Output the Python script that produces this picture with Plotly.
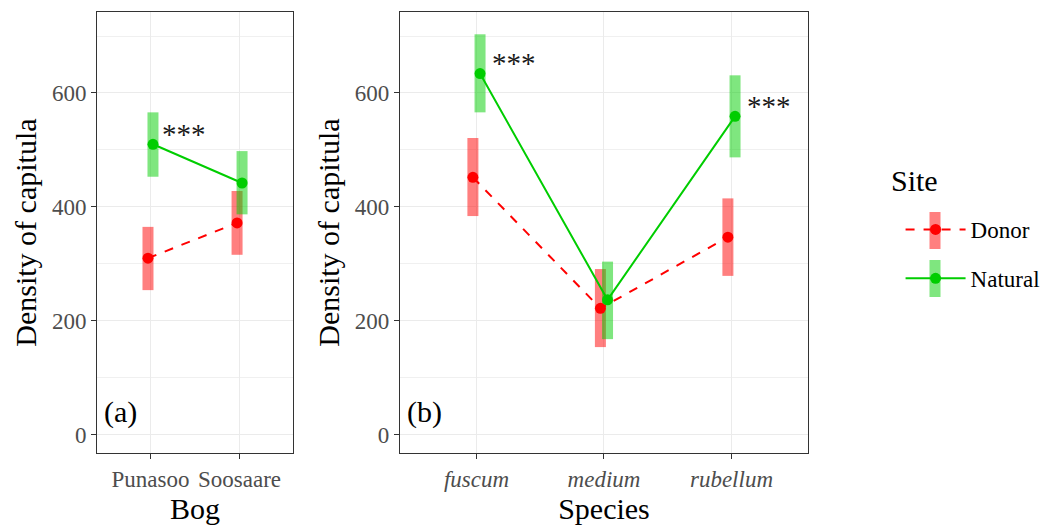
import plotly.graph_objects as go

# ---- data ----
bogs = ["Punasoo", "Soosaare"]
species = ["fuscum", "medium", "rubellum"]

bog_donor_mean = [310, 372]
bog_donor_lo = [254, 316]
bog_donor_hi = [365, 428]
bog_natural_mean = [510, 442]
bog_natural_lo = [453, 387]
bog_natural_hi = [566, 498]

sp_donor_mean = [452, 222, 347]
sp_donor_lo = [384, 154, 279]
sp_donor_hi = [521, 291, 415]
sp_natural_mean = [634, 237, 559]
sp_natural_lo = [566, 168, 487]
sp_natural_hi = [703, 304, 631]

bog_signif = ["***", ""]
sp_signif = ["***", "", "***"]

RED = "#FF0000"
GREEN = "#00CD00"
RED_A = "rgba(255,0,0,0.5)"
GREEN_A = "rgba(0,205,0,0.5)"
FONT = "Liberation Serif"
dodge = 0.028

fig = go.Figure()

def add_panel(xa, ya, cats, dm, dlo, dhi, nm, nlo, nhi, showlegend):
    xs = list(range(1, len(cats) + 1))
    xd = [x - dodge for x in xs]
    xn = [x + dodge for x in xs]
    for xx, m, lo, hi, col in [(xd, dm, dlo, dhi, RED_A), (xn, nm, nlo, nhi, GREEN_A)]:
        fig.add_trace(go.Scatter(
            x=xx, y=m, xaxis=xa, yaxis=ya, mode="markers",
            marker=dict(size=1, opacity=0), showlegend=False, hoverinfo="skip",
            error_y=dict(type="data", symmetric=False,
                         array=[h - v for h, v in zip(hi, m)],
                         arrayminus=[v - l for v, l in zip(m, lo)],
                         color=col, thickness=11, width=0)))
    fig.add_trace(go.Scatter(
        x=xd, y=dm, xaxis=xa, yaxis=ya, mode="lines+markers", name="Donor",
        legendgroup="Donor", showlegend=showlegend,
        line=dict(color=RED, width=2, dash="dash"),
        marker=dict(color=RED, size=11)))
    fig.add_trace(go.Scatter(
        x=xn, y=nm, xaxis=xa, yaxis=ya, mode="lines+markers", name="Natural",
        legendgroup="Natural", showlegend=showlegend,
        line=dict(color=GREEN, width=2),
        marker=dict(color=GREEN, size=11)))

add_panel("x", "y", bogs, bog_donor_mean, bog_donor_lo, bog_donor_hi,
          bog_natural_mean, bog_natural_lo, bog_natural_hi, True)
add_panel("x2", "y2", species, sp_donor_mean, sp_donor_lo, sp_donor_hi,
          sp_natural_mean, sp_natural_lo, sp_natural_hi, False)

STAR_FONT = dict(family=FONT, size=29, color="#1a1a1a")
TITLE_FONT = dict(family=FONT, size=30, color="black")
annotations = []
for i, s in enumerate(bog_signif):
    if s:
        annotations.append(dict(x=i + 1 + 0.11, y=bog_natural_mean[i] + 18, xref="x", yref="y",
                                text=s, showarrow=False, xanchor="left", yanchor="middle",
                                font=STAR_FONT))
for i, s in enumerate(sp_signif):
    if s:
        annotations.append(dict(x=i + 1 + 0.11, y=sp_natural_mean[i] + 18, xref="x2", yref="y2",
                                text=s, showarrow=False, xanchor="left", yanchor="middle",
                                font=STAR_FONT))
annotations.append(dict(x=0.025, y=40, xref="x domain", yref="y", text="(a)", showarrow=False,
                        xanchor="left", yanchor="middle", font=dict(family=FONT, size=30, color="black")))
annotations.append(dict(x=0.012, y=40, xref="x2 domain", yref="y2", text="(b)", showarrow=False,
                        xanchor="left", yanchor="middle", font=dict(family=FONT, size=30, color="black")))
# legend title
annotations.append(dict(x=889 / 1057, y=1 - 180 / 525, xref="paper", yref="paper", text="Site",
                        showarrow=False, xanchor="left", yanchor="middle", font=TITLE_FONT))

# legend key error-bar rectangles
W, H = 1057, 525
key_shapes = []
for (y0, y1, col) in [(212, 249, RED_A), (260, 297, GREEN_A)]:
    key_shapes.append(dict(type="rect", xref="paper", yref="paper",
                           x0=929.5 / W, x1=940.5 / W, y0=1 - y1 / H, y1=1 - y0 / H,
                           fillcolor=col, line=dict(width=0), layer="above"))

axis_common = dict(showline=True, mirror=True, linecolor="#333333", linewidth=1,
                   ticks="outside", ticklen=5, tickcolor="#333333", zeroline=False,
                   gridcolor="#EBEBEB", gridwidth=1.2,
                   tickfont=dict(family=FONT, size=23, color="#4D4D4D"),
                   automargin=False)

yaxis_common = dict(axis_common, range=[-32, 742], tickvals=[0, 200, 400, 600],
                    minor=dict(showgrid=True, gridcolor="#F0F0F0", gridwidth=1,
                               tickvals=[100, 300, 500, 700], ticks=""),
                    title=dict(text="Density of capitula", font=TITLE_FONT, standoff=6))

fig.update_layout(
    width=1057, height=525,
    margin=dict(l=0, r=0, t=0, b=0),
    paper_bgcolor="white", plot_bgcolor="white",
    font=dict(family=FONT),
    xaxis=dict(axis_common, domain=[0.0918, 0.2772], range=[0.4, 2.6],
               tickvals=[1, 2], ticktext=bogs,
               title=dict(text="Bog", font=TITLE_FONT, standoff=0)),
    xaxis2=dict(axis_common, domain=[0.3784, 0.7644], range=[0.4, 3.6],
                tickvals=[1, 2, 3], ticktext=["<i>" + s + "</i>" for s in species],
                title=dict(text="Species", font=TITLE_FONT, standoff=0)),
    yaxis=dict(yaxis_common, domain=[0.137, 0.977], anchor="x"),
    yaxis2=dict(yaxis_common, domain=[0.137, 0.977], anchor="x2"),
    legend=dict(x=0.852, y=1 - 208 / 525, xanchor="left", yanchor="top",
                bgcolor="rgba(0,0,0,0)",
                font=dict(family=FONT, size=23, color="black"),
                tracegroupgap=16, itemwidth=60),
    shapes=key_shapes,
    annotations=annotations,
)

fig.write_html("out.html")
